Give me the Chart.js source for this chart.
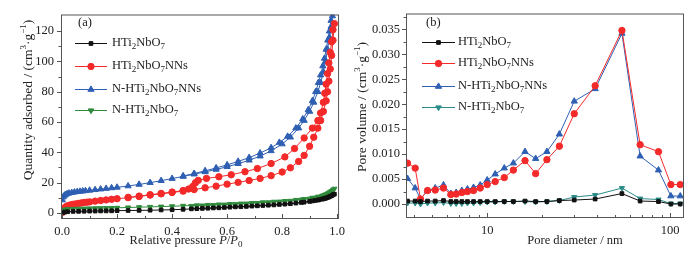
<!DOCTYPE html>
<html>
<head>
<meta charset="utf-8">
<script src="https://cdn.jsdelivr.net/npm/chart.js@4.4.0/dist/chart.umd.min.js"></script>
<style>
    html, body { margin: 0; padding: 0; background: #fff; }
    #wrap { position: relative; width: 700px; height: 262px; }
    .panel { position: absolute; top: 0; width: 350px; height: 262px; }
</style>
</head>
<body>
<div id="wrap">
    <div class="panel" style="left:0"><canvas id="isoChart" width="350" height="262"></canvas></div>
    <div class="panel" style="left:350px"><canvas id="poreChart" width="350" height="262"></canvas></div>
</div>
<script>
// ---- (a) N2 isotherms: relative pressure P/P0 vs quantity adsorbed ----
const blackAdsP = [0.002,0.01,0.02,0.04,0.06,0.08,0.10,0.12,0.14,0.16,0.18,0.20,0.24,0.28,0.32,0.36,0.40,0.44,0.49,0.53,0.57,0.61,0.65,0.69,0.73,0.77,0.81,0.85,0.88,0.91,0.93,0.95,0.96,0.97,0.98,0.99];
const blackAdsQ = [0.1,0.6,0.8,1.0,1.05,1.1,1.2,1.25,1.3,1.35,1.4,1.5,1.6,1.7,1.8,1.95,2.1,2.4,2.8,3.1,3.4,3.8,4.1,4.5,4.9,5.3,5.8,6.5,7.1,7.9,8.5,9.3,9.8,10.5,11.3,12.4];
const blackDesP = [0.985,0.975,0.965,0.955,0.945,0.935,0.92,0.90,0.87,0.83,0.79,0.75,0.71,0.67,0.63,0.59,0.55,0.51,0.47];
const blackDesQ = [12.0,11.0,10.2,9.6,9.1,8.7,8.2,7.6,6.9,6.1,5.6,5.1,4.7,4.3,4.0,3.6,3.3,3.0,2.7];

const greenAdsQ = [1.5,2.2,2.5,2.7,2.8,2.9,3.0,3.1,3.15,3.2,3.3,3.4,3.6,3.8,4.0,4.2,4.4,4.7,5.0,5.3,5.6,5.9,6.2,6.6,7.0,7.4,7.9,8.6,9.2,10.0,10.7,11.6,12.3,13.3,14.5,16.0];
const greenDesQ = [15.3,13.9,12.8,11.9,11.2,10.6,10.0,9.4,8.8,8.0,7.5,7.0,6.6,6.2,5.8,5.5,5.2,4.9,4.6];

const redAdsP = [0.002,0.006,0.01,0.015,0.02,0.03,0.04,0.05,0.06,0.07,0.08,0.09,0.10,0.12,0.14,0.16,0.18,0.20,0.24,0.28,0.32,0.36,0.40,0.44,0.48,0.52,0.56,0.60,0.64,0.68,0.72,0.76,0.80,0.83,0.86,0.88,0.90,0.915,0.93,0.94,0.95,0.96,0.965,0.97,0.975,0.98,0.985,0.99];
const redAdsQ = [0.5,2.5,3.5,4.2,4.7,5.3,5.7,6.0,6.3,6.6,6.9,7.1,7.3,7.8,8.2,8.6,9.0,9.4,10.1,10.9,11.8,12.6,13.5,14.4,15.4,16.6,17.7,19.0,20.2,21.4,22.8,24.6,27.0,29.8,34.0,38.0,44.0,50.0,56.0,61.0,67.0,74.0,80.0,87.0,95.0,104.0,114.0,125.0];
const redDesP = [0.985,0.98,0.975,0.97,0.965,0.96,0.955,0.95,0.94,0.93,0.91,0.88,0.845,0.81,0.76,0.71,0.665,0.615,0.57,0.525,0.495,0.485,0.475,0.46,0.44,0.40,0.36,0.32,0.28,0.24];
const redDesQ = [121,113,106,99,92,85,79,73,66,61,56,49.5,42.5,37,32.6,29.3,27.2,25.2,23.9,22.8,21.5,20,17.5,15.8,14.8,13.8,12.9,12.0,11.1,10.3];

const blueAdsP = [0.001,0.004,0.008,0.012,0.018,0.025,0.035,0.045,0.055,0.065,0.075,0.085,0.10,0.12,0.14,0.16,0.18,0.20,0.24,0.28,0.32,0.36,0.40,0.44,0.48,0.52,0.56,0.60,0.64,0.68,0.72,0.76,0.80,0.83,0.86,0.88,0.90,0.915,0.93,0.94,0.95,0.958,0.965,0.972,0.978,0.983];
const blueAdsQ = [8.5,10.5,11.5,12.1,12.6,13.0,13.4,13.7,14.0,14.2,14.4,14.6,14.9,15.3,15.7,16.1,16.5,16.9,17.8,18.8,20.0,21.3,22.7,24.1,25.6,27.1,28.7,30.5,32.5,34.8,37.5,41,45.5,50,56,61,67,73,80,86,93,100,108,116,123,130];
const blueDesP = [0.978,0.972,0.966,0.96,0.954,0.948,0.94,0.932,0.922,0.91,0.895,0.875,0.85,0.82,0.79,0.76,0.72,0.68,0.64,0.60,0.56,0.52,0.48,0.44];
const blueDesQ = [127,120,114,108,102,97,91,86,80,74,68,62,56,50.5,46.5,43,39.5,36.5,34,31.7,29.7,27.8,26,24.4];

const isoXTicks = [0, 0.2, 0.4, 0.6, 0.8, 1.0];
const isoXMinor = [0.1, 0.3, 0.5, 0.7, 0.9];
const isoYTicks = [0, 20, 40, 60, 80, 100, 120];
const isoYMinor = [10, 30, 50, 70, 90, 110];

// ---- (b) pore size distribution ----
const poreD = [3.67,4.04,4.32,4.72,5.2,5.77,6.33,6.77,7.27,7.8,8.42,9.16,10.0,11.06,12.4,13.9,16.1,18.4,21.2,24.8,29.9,38.9,54.5,68.5,86.3,100.9,113.5];
const poreBlack = [0.0006,0.0006,0.0005,0.0006,0.0006,0.0007,0.0005,0.0005,0.0005,0.0005,0.0005,0.0005,0.0005,0.0005,0.0005,0.0005,0.0006,0.0005,0.0005,0.0007,0.0008,0.0010,0.0021,0.0006,0.0005,0.0000,0.0000];
const poreRed = [0.0082,0.0072,0.0010,0.0027,0.0028,0.0032,0.0019,0.0020,0.0023,0.0025,0.0027,0.0032,0.0039,0.0045,0.0053,0.0068,0.0087,0.0061,0.0089,0.0116,0.0181,0.0237,0.0348,0.0119,0.0105,0.0039,0.0039];
const poreBlue = [0.0051,0.0032,0.0010,0.0027,0.0032,0.0038,0.0021,0.0023,0.0027,0.0030,0.0033,0.0038,0.0048,0.0060,0.0072,0.0082,0.0105,0.0091,0.0105,0.0140,0.0206,0.0231,0.0342,0.0096,0.0068,0.0016,0.0016];
const poreTeal = [0.0002,0.0002,0.0000,0.0002,0.0002,0.0003,0.0001,0.0001,0.0001,0.0002,0.0002,0.0003,0.0004,0.0004,0.0005,0.0005,0.0005,0.0004,0.0005,0.0007,0.0014,0.0018,0.0032,0.0011,0.0009,0.0001,0.0001];

const poreXTicks = [10, 100];
const poreXMinor = [4,5,6,7,8,9,20,30,40,50,60,70,80,90];
const poreYTicks = [0, 0.005, 0.010, 0.015, 0.020, 0.025, 0.030, 0.035];
const poreYMinor = [0.0025, 0.0075, 0.0125, 0.0175, 0.0225, 0.0275, 0.0325, 0.0375];

const SERIF = "'Liberation Serif', 'Times New Roman', serif";
const C_BLACK = '#111111';
const C_RED = '#f42a2a';
const C_BLUE = '#2f5fb3';
const C_GREEN = '#2f8a3c';
const C_TEAL = '#2a8c88';

function zip(xs, ys) {
    return xs.map((x, i) => ({ x: x, y: ys[i] }));
}

function fontFor(kind, size) {
    if (kind === 'sub' || kind === 'sup') return Math.round(size * 0.68) + 'px ' + SERIF;
    if (kind === 'i') return 'italic ' + size + 'px ' + SERIF;
    return size + 'px ' + SERIF;
}

// draw text made of parts like ['HTi'], ['2','sub'], ['P','i']
function drawRich(ctx, parts, x, y, size, align) {
    let w = 0;
    parts.forEach(p => { ctx.font = fontFor(p[1], size); w += ctx.measureText(p[0]).width; });
    let cx = align === 'center' ? x - w / 2 : x;
    ctx.textAlign = 'left';
    ctx.textBaseline = 'middle';
    parts.forEach(p => {
        ctx.font = fontFor(p[1], size);
        const dy = p[1] === 'sub' ? size * 0.3 : (p[1] === 'sup' ? -size * 0.35 : 0);
        ctx.fillText(p[0], cx, y + dy);
        cx += ctx.measureText(p[0]).width;
    });
}

const nameA = [['HTi'], ['2', 'sub'], ['NbO'], ['7', 'sub']];
const nameB = [['HTi'], ['2', 'sub'], ['NbO'], ['7', 'sub'], ['NNs']];
const nameC = [['N-HTi'], ['2', 'sub'], ['NbO'], ['7', 'sub'], ['NNs']];
const nameD = [['N-HTi'], ['2', 'sub'], ['NbO'], ['7', 'sub']];

function decorPlugin(cfg) {
    return {
        id: 'decor',
        afterDraw(chart) {
            const ctx = chart.ctx;
            const a = chart.chartArea;
            const xs = chart.scales.x;
            const ys = chart.scales.y;
            ctx.save();
            // frame
            ctx.strokeStyle = '#555';
            ctx.lineWidth = 1;
            ctx.strokeRect(a.left + 0.5, a.top + 0.5, a.right - a.left - 1, a.bottom - a.top - 1);
            ctx.beginPath();
            // x ticks point inward, y ticks outward
            cfg.xMajor.forEach(v => {
                const px = Math.round(xs.getPixelForValue(v)) + 0.5;
                ctx.moveTo(px, a.bottom); ctx.lineTo(px, a.bottom - 5);
            });
            cfg.xMinor.forEach(v => {
                const px = Math.round(xs.getPixelForValue(v)) + 0.5;
                ctx.moveTo(px, a.bottom); ctx.lineTo(px, a.bottom - 3);
            });
            cfg.yMajor.forEach(v => {
                const py = Math.round(ys.getPixelForValue(v)) + 0.5;
                ctx.moveTo(a.left, py); ctx.lineTo(a.left - 4, py);
            });
            cfg.yMinor.forEach(v => {
                const py = Math.round(ys.getPixelForValue(v)) + 0.5;
                if (py > a.top) { ctx.moveTo(a.left, py); ctx.lineTo(a.left - 2.5, py); }
            });
            ctx.stroke();

            ctx.fillStyle = '#222';
            // panel letter
            drawRich(ctx, [[cfg.letter]], cfg.letterX, 23, 12.5, 'left');

            // legend
            cfg.legend.forEach((item, i) => {
                const y = cfg.legendY[i];
                ctx.strokeStyle = item.color;
                ctx.lineWidth = 1;
                ctx.beginPath();
                ctx.moveTo(cfg.legendX0, y + 0.5);
                ctx.lineTo(cfg.legendX1, y + 0.5);
                ctx.stroke();
                ctx.fillStyle = item.color;
                Chart.helpers.drawPoint(ctx, {
                    pointStyle: item.style, radius: item.radius, rotation: item.rotation || 0, borderWidth: 1
                }, (cfg.legendX0 + cfg.legendX1) / 2, y + 0.5);
                ctx.fillStyle = '#222';
                drawRich(ctx, item.name, cfg.legendTx, y, 12.5, 'left');
            });

            // axis titles
            drawRich(ctx, cfg.xTitle, cfg.xTitleX, 241, 12.5, 'center');
            ctx.translate(cfg.yTitleX, cfg.yTitleY);
            ctx.rotate(-Math.PI / 2);
            drawRich(ctx, cfg.yTitle, 0, 0, 13.5, 'center');
            ctx.restore();
        }
    };
}

function lineSet(data, color, style, radius, rotation) {
    return {
        data: data,
        showLine: true,
        borderColor: color,
        backgroundColor: color,
        borderWidth: 1,
        pointStyle: style,
        pointRadius: radius,
        pointRotation: rotation || 0,
        pointBorderWidth: 1,
        pointBorderColor: color,
        pointBackgroundColor: color,
        tension: 0
    };
}

const tickFont = { family: SERIF, size: 12.5 };

function axes(xCfg, yCfg, yWidth, xHeight) {
    return {
        x: Object.assign({
            grid: { display: false, drawTicks: false },
            border: { display: false },
            ticks: { font: tickFont, color: '#222', padding: 5, maxRotation: 0, autoSkip: false },
            afterFit: s => { s.height = xHeight; }
        }, xCfg),
        y: Object.assign({
            grid: { display: false, drawTicks: false },
            border: { display: false },
            ticks: { font: tickFont, color: '#222', padding: 7, autoSkip: false },
            afterFit: s => { s.width = yWidth; }
        }, yCfg)
    };
}

// ---- chart (a) ----
const isoScales = axes({
    type: 'linear', min: -0.004, max: 1.007,
    afterBuildTicks: s => { s.ticks = isoXTicks.map(v => ({ value: v })); }
}, {
    type: 'linear', min: -4, max: 131,
    afterBuildTicks: s => { s.ticks = isoYTicks.map(v => ({ value: v })); }
}, 61, 43);
isoScales.x.ticks.callback = v => v.toFixed(1);
isoScales.y.ticks.callback = v => String(v);

new Chart(document.getElementById('isoChart'), {
    type: 'scatter',
    data: {
        datasets: [
            lineSet(zip(blackAdsP, blackAdsQ).concat(zip(blackDesP, blackDesQ)), C_BLACK, 'rect', 2.6),
            lineSet(zip(blackAdsP, greenAdsQ).concat(zip(blackDesP, greenDesQ)), C_GREEN, 'triangle', 3, 180),
            lineSet(zip(redAdsP, redAdsQ).concat(zip(redDesP, redDesQ)), C_RED, 'circle', 3.2),
            lineSet(zip(blueAdsP, blueAdsQ).concat(zip(blueDesP, blueDesQ)), C_BLUE, 'triangle', 3.6)
        ]
    },
    options: {
        responsive: false,
        animation: false,
        devicePixelRatio: 1,
        layout: { padding: { left: 0, top: 12, right: 8, bottom: 0 } },
        plugins: { legend: { display: false }, tooltip: { enabled: false } },
        scales: isoScales
    },
    plugins: [decorPlugin({
        xMajor: isoXTicks, xMinor: isoXMinor, yMajor: isoYTicks, yMinor: isoYMinor,
        letter: '(a)', letterX: 78,
        legendX0: 75, legendX1: 107, legendTx: 112, legendY: [43, 66, 89, 110],
        legend: [
            { name: nameA, color: C_BLACK, style: 'rect', radius: 2.6 },
            { name: nameB, color: C_RED, style: 'circle', radius: 3.2 },
            { name: nameC, color: C_BLUE, style: 'triangle', radius: 3.6 },
            { name: nameD, color: C_GREEN, style: 'triangle', radius: 3.2, rotation: 180 }
        ],
        xTitle: [['Relative pressure '], ['P', 'i'], ['/'], ['P', 'i'], ['0', 'sub']],
        xTitleX: 186,
        yTitle: [['Quantity adsorbed / (cm'], ['3', 'sup'], ['\u00b7g'], ['\u22121', 'sup'], [')']],
        yTitleX: 28, yTitleY: 100
    })]
});

// ---- chart (b) ----
const poreScales = axes({
    type: 'logarithmic', min: 3.6, max: 119,
    afterBuildTicks: s => { s.ticks = poreXTicks.map(v => ({ value: v })); }
}, {
    type: 'linear', min: -0.0028, max: 0.0382,
    afterBuildTicks: s => { s.ticks = poreYTicks.map(v => ({ value: v })); }
}, 56, 44);
poreScales.x.ticks.callback = v => String(v);
poreScales.y.ticks.callback = v => v.toFixed(3);
poreScales.y.ticks.padding = 6;

new Chart(document.getElementById('poreChart'), {
    type: 'scatter',
    data: {
        datasets: [
            lineSet(zip(poreD, poreBlack), C_BLACK, 'rect', 2.6),
            lineSet(zip(poreD, poreTeal), C_TEAL, 'triangle', 3, 180),
            lineSet(zip(poreD, poreRed), C_RED, 'circle', 3.2),
            lineSet(zip(poreD, poreBlue), C_BLUE, 'triangle', 3.6)
        ]
    },
    options: {
        responsive: false,
        animation: false,
        devicePixelRatio: 1,
        layout: { padding: { left: 0, top: 12, right: 16, bottom: 0 } },
        plugins: { legend: { display: false }, tooltip: { enabled: false } },
        scales: poreScales
    },
    plugins: [decorPlugin({
        xMajor: poreXTicks, xMinor: poreXMinor, yMajor: poreYTicks, yMinor: poreYMinor,
        letter: '(b)', letterX: 76,
        legendX0: 72, legendX1: 105, legendTx: 108, legendY: [42, 63, 86, 107],
        legend: [
            { name: nameA, color: C_BLACK, style: 'rect', radius: 2.6 },
            { name: nameB, color: C_RED, style: 'circle', radius: 3.2 },
            { name: nameC, color: C_BLUE, style: 'triangle', radius: 3.6 },
            { name: nameD, color: C_TEAL, style: 'triangle', radius: 3.2, rotation: 180 }
        ],
        xTitle: [['Pore diameter / nm']],
        xTitleX: 225,
        yTitle: [['Pore volume / (cm'], ['3', 'sup'], ['\u00b7g'], ['\u22121', 'sup'], [')']],
        yTitleX: 12, yTitleY: 107
    })]
});
</script>
</body>
</html>
